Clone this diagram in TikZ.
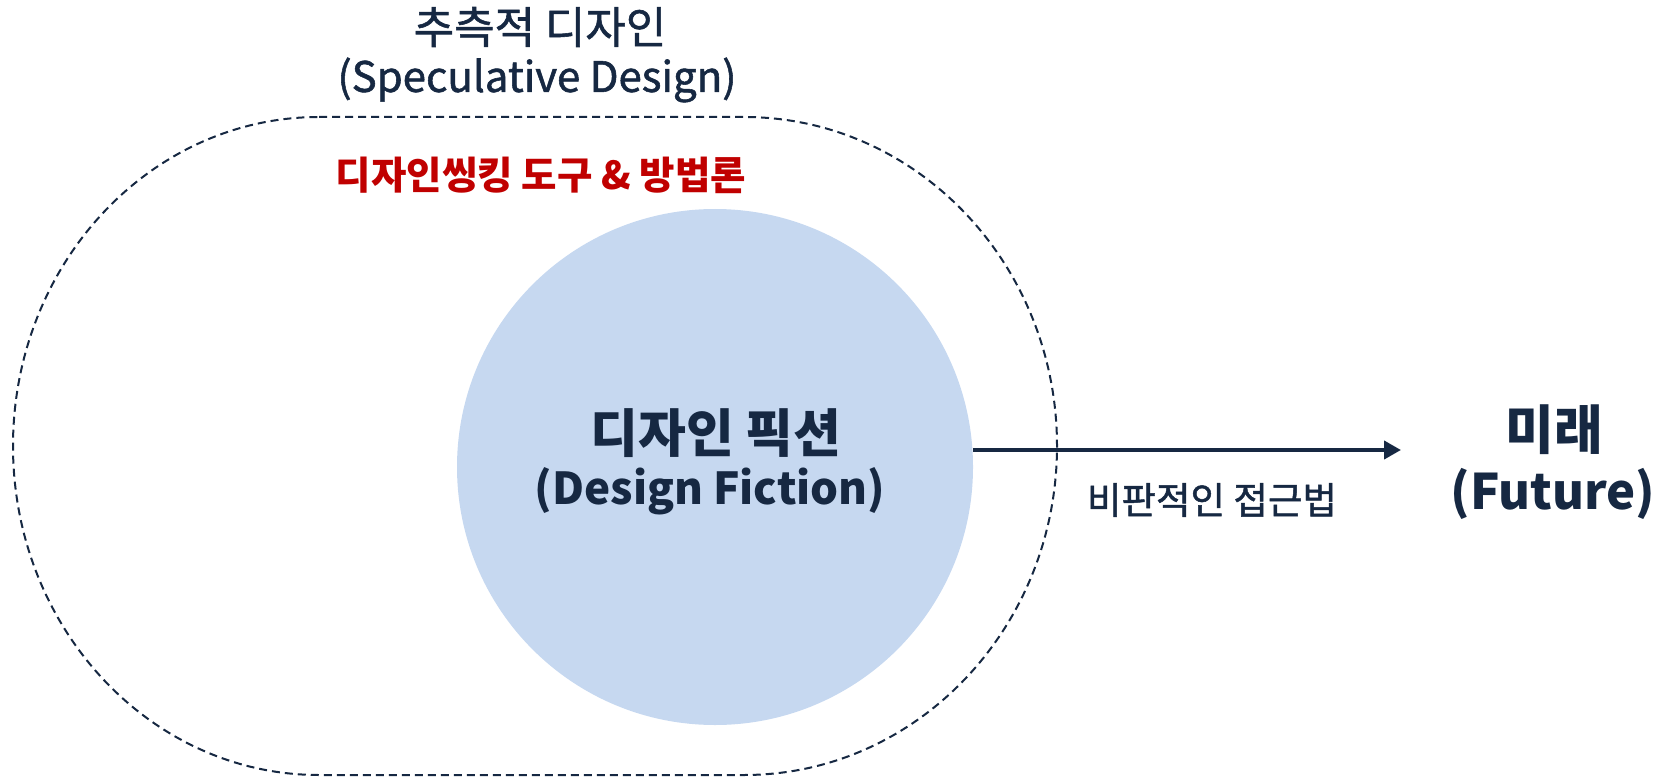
\documentclass[tikz,border=0pt]{standalone}
\usepackage{fontspec}
\setmainfont{Noto Sans CJK KR}
\newfontfamily\medfont[FakeBold=1.3]{Noto Sans CJK KR}
\usetikzlibrary{arrows.meta}
\definecolor{navy}{RGB}{22,40,66}
\definecolor{circblue}{RGB}{198,216,240}
\definecolor{dred}{RGB}{192,0,0}
\tikzset{
  outline/.style={draw=navy, line width=2pt, dash pattern=on 8pt off 5pt},
  lbl/.style={inner sep=0pt, anchor=center, text=navy, align=center},
  conn/.style={draw=navy, line width=4pt, -{Triangle[length=17pt,width=18pt]}},
}
\begin{document}
\begin{tikzpicture}[x=1pt,y=-1pt]
\useasboundingbox (0,0) rectangle (1667,778);
% outer dashed region
\draw[outline] (319,117) -- (744,117)
  arc[start angle=90, end angle=-90, x radius=313pt, y radius=329pt]
  -- (319,775)
  arc[start angle=270, end angle=90, x radius=306pt, y radius=329pt]
  -- cycle;
% inner circle
\node[circle, fill=circblue, minimum size=516pt, inner sep=0pt] (circ) at (715,467) {};
% texts
\node[lbl] (spec) at (540,27) {\fontsize{44}{50}\medfont 추측적 디자인};
\node[lbl] (specen) at (537,80) {\fontsize{42}{48}\medfont (Speculative Design)};
\node[lbl, text=dred] (tools) at (541,175) {\fontsize{38.5}{44}\selectfont\bfseries 디자인씽킹 도구 \& 방법론};
\node[lbl] (df) at (716,433) {\fontsize{52}{58}\selectfont\bfseries 디자인 픽션};
\node[lbl] (dfen) at (710,491) {\fontsize{44}{50}\selectfont\bfseries (Design Fiction)};
\node[lbl] (fut) at (1554,430) {\fontsize{53}{60}\selectfont\bfseries 미래};
\node[lbl] (futen) at (1553,494) {\fontsize{49}{56}\selectfont\bfseries (Future)};
\node[lbl] (crit) at (1212,500) {\fontsize{37.5}{44}\medfont 비판적인 접근법};
% arrow
\coordinate (aend) at (1401,450);
\draw[conn] (circ.east |- aend) -- (aend);
\end{tikzpicture}
\end{document}
